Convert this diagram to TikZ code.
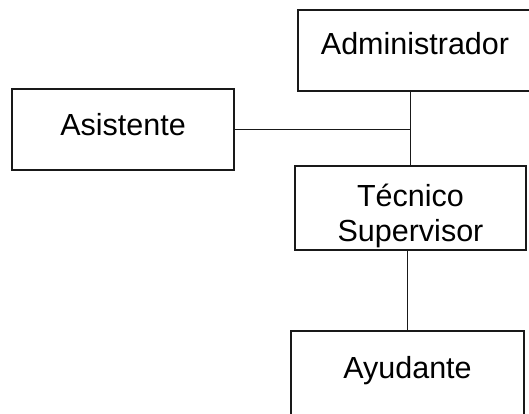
\documentclass[tikz,border=0pt]{standalone}
\usepackage{fontspec}
\setmainfont{Liberation Sans}
\begin{document}
\begin{tikzpicture}[x=1pt,y=-1pt,
  box/.style={draw=black!90, line width=2.2pt, rectangle, inner sep=0pt,
    font=\fontsize{30.5}{35}\selectfont, text height=22pt, text depth=6pt},
  link/.style={draw=black!90, line width=1.5pt}]
  \useasboundingbox (0,0) rectangle (529,413);
  \clip (0,0) rectangle (529,413);
  % boxes of the chart
  \node[box, minimum width=234pt, minimum height=81pt, text depth=14pt]
    (admin) at (415,50.5) {Administrador};
  \node[box, minimum width=222pt, minimum height=81pt, text depth=10pt]
    (asis) at (123,129.5) {Asistente};
  \node[box, minimum width=231pt, minimum height=84pt, align=center,
    text height=, text depth=]
    (tec) at (410.5,208) {\rule{0pt}{38pt}Técnico\\Supervisor};
  \node[box, minimum width=233pt, minimum height=84pt, text depth=11pt]
    (ayu) at (407.5,373) {Ayudante};
  % connecting lines
  \draw[link] (tec.north) -- (tec.north |- admin.south);
  \draw[link] (asis.east) -- (asis.east -| tec.north);
  \draw[link] (ayu.north) -- (ayu.north |- tec.south);
\end{tikzpicture}
\end{document}
